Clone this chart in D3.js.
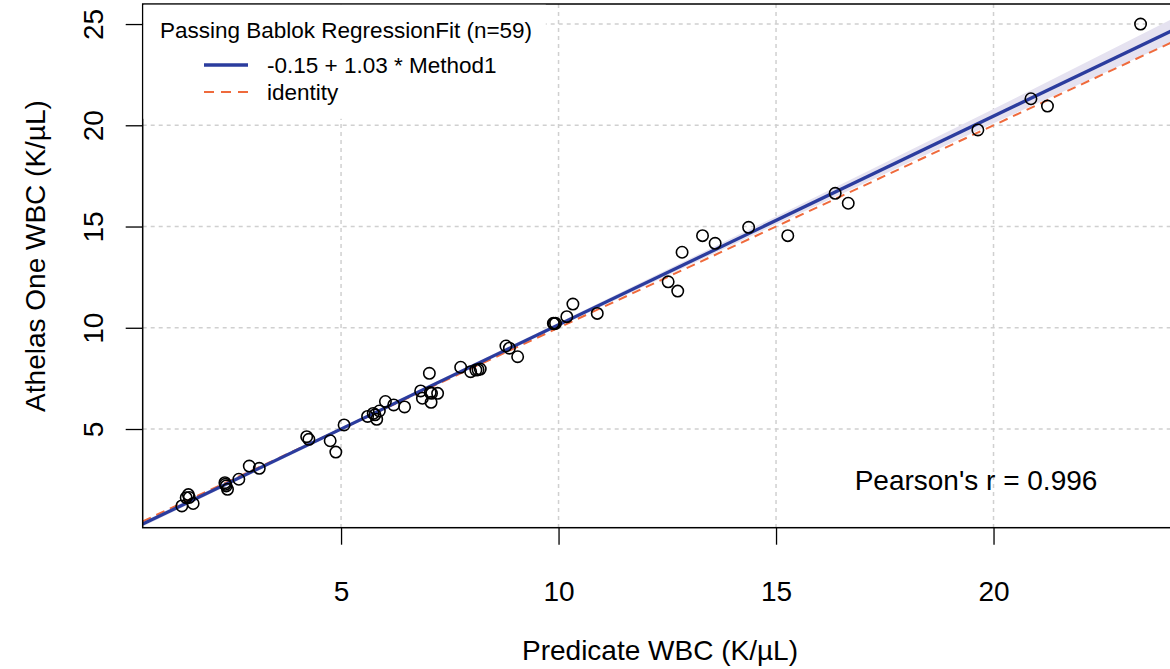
<!DOCTYPE html>
<html>
<head>
<meta charset="utf-8">
<script src="https://cdn.jsdelivr.net/npm/d3@7"></script>
<style>
  body { margin: 0; background: #fff; }
  text { font-family: "Liberation Sans", Arial, sans-serif; fill: #000; }
</style>
</head>
<body>
<div id="chart"></div>
<script>
// predicate (x) vs Athelas One (y) WBC, K/uL
const predicate = [1.34, 1.49, 1.51, 1.60, 1.44, 2.33, 2.36, 2.39, 2.65, 2.89, 3.12, 4.21, 4.26, 4.75, 4.88,
  5.07, 5.61, 5.74, 5.82, 5.88, 6.02, 6.21, 6.46, 6.83, 6.87, 7.03, 7.08, 7.07, 7.22, 7.75, 7.98, 8.10, 8.20,
  8.79, 8.87, 9.06, 9.88, 9.93, 10.19, 10.33, 10.89, 12.52, 12.74, 12.84, 13.31, 13.60, 14.37, 15.27, 16.36,
  16.66, 19.64, 20.86, 21.24, 23.38, 2.34, 5.78, 7.05, 8.15, 9.90];
const athelas = [1.20, 1.76, 1.62, 1.32, 1.61, 2.35, 2.19, 2.02, 2.52, 3.17, 3.06, 4.62, 4.49, 4.42, 3.86,
  5.20, 5.62, 5.77, 5.48, 5.89, 6.36, 6.19, 6.09, 6.88, 6.52, 7.75, 6.76, 6.32, 6.76, 8.05, 7.83, 7.91, 7.96,
  9.10, 8.99, 8.57, 10.22, 10.22, 10.55, 11.17, 10.71, 12.27, 11.81, 13.73, 14.55, 14.17, 14.96, 14.55, 16.64,
  16.15, 19.77, 21.31, 20.95, 25.00, 2.27, 5.70, 6.80, 7.93, 10.20];

const intercept = -0.15;
const slope = 1.03;

// confidence band
const bandX = [0.44, 5, 10, 15, 20, 24.3];
const bandLo = [0.18, 4.92, 10.05, 15.10, 20.10, 24.30];
const bandHi = [0.42, 5.08, 10.25, 15.50, 20.80, 25.46];

const xTicks = [5, 10, 15, 20];
const yTicks = [5, 10, 15, 20, 25];

const legendTitle = "Passing Bablok RegressionFit (n=59)";
const legendLabels = ["-0.15 + 1.03 * Method1", "identity"];
const pearsonText = "Pearson's r = 0.996";

var width = 1170;
var height = 669;
var pLeft = 142.7, pRight = 1179.7, pTop = 4, pBottom = 527.7;

const blue = "#2b3c9e";
const orange = "#ef6a3c";

const svg = d3.select("#chart")
  .append("svg")
  .attr("width", width)
  .attr("height", height)
  .style("background-color", "#fff");

const x = d3.scaleLinear().domain([0.44, 24.28]).range([pLeft, pRight]);
const y = d3.scaleLinear().domain([0.126, 25.99]).range([pBottom, pTop]);

svg.append("clipPath").attr("id", "plotclip")
  .append("rect")
  .attr("x", pLeft).attr("y", pTop)
  .attr("width", pRight - pLeft).attr("height", pBottom - pTop);

// grid
const grid = svg.append("g")
  .attr("stroke", "#d0d0d0")
  .attr("stroke-width", 1.5)
  .attr("stroke-dasharray", "4,4");
grid.selectAll(".gx").data(xTicks).enter().append("line")
  .attr("x1", d => x(d)).attr("x2", d => x(d))
  .attr("y1", pTop).attr("y2", pBottom);
grid.selectAll(".gy").data(yTicks).enter().append("line")
  .attr("x1", pLeft).attr("x2", pRight)
  .attr("y1", d => y(d)).attr("y2", d => y(d));

const plot = svg.append("g").attr("clip-path", "url(#plotclip)");

// band
const band = d3.area()
  .x((d, i) => x(bandX[i]))
  .y0((d, i) => y(bandLo[i]))
  .y1((d, i) => y(bandHi[i]));
plot.append("path")
  .datum(bandX)
  .attr("d", band)
  .attr("fill", "#e5e2f0");

const xEnds = x.domain();
// identity
plot.append("line")
  .attr("x1", x(xEnds[0])).attr("y1", y(xEnds[0]))
  .attr("x2", x(xEnds[1])).attr("y2", y(xEnds[1]))
  .attr("stroke", orange)
  .attr("stroke-width", 2)
  .attr("stroke-dasharray", "9,6");
// fit
plot.append("line")
  .attr("x1", x(xEnds[0])).attr("y1", y(intercept + slope * xEnds[0]))
  .attr("x2", x(xEnds[1])).attr("y2", y(intercept + slope * xEnds[1]))
  .attr("stroke", blue)
  .attr("stroke-width", 3.3);

// points
plot.selectAll("circle")
  .data(predicate)
  .enter()
  .append("circle")
  .attr("cx", d => x(d))
  .attr("cy", (d, i) => y(athelas[i]))
  .attr("r", 5.7)
  .attr("fill", "none")
  .attr("stroke", "#000")
  .attr("stroke-width", 1.6);

// axes
const xAxis = d3.axisBottom(x).tickValues(xTicks).tickSize(17).tickPadding(36);
svg.append("g")
  .attr("transform", `translate(0,${pBottom})`)
  .call(xAxis)
  .call(g => g.select(".domain").remove())
  .call(g => g.selectAll(".tick line").attr("stroke", "#000").attr("stroke-width", 1.3))
  .call(g => g.selectAll(".tick text").style("font-size", "28px").attr("font-family", null));

const yAxis = d3.axisLeft(y).tickValues(yTicks).tickSize(17);
const yg = svg.append("g")
  .attr("transform", `translate(${pLeft},0)`)
  .call(yAxis)
  .call(g => g.select(".domain").remove())
  .call(g => g.selectAll(".tick line").attr("stroke", "#000").attr("stroke-width", 1.3));
yg.selectAll(".tick text")
  .attr("x", null).attr("dy", null)
  .attr("transform", "translate(-49,0) rotate(-90)")
  .attr("text-anchor", "middle")
  .attr("dominant-baseline", "central")
  .attr("font-family", null)
  .style("font-size", "28px");

// border
svg.append("rect")
  .attr("x", pLeft).attr("y", pTop)
  .attr("width", pRight - pLeft).attr("height", pBottom - pTop)
  .attr("fill", "none")
  .attr("stroke", "#000")
  .attr("stroke-width", 1.5);

// titles
svg.append("text")
  .text("Predicate WBC (K/µL)")
  .attr("x", 660).attr("y", 660)
  .attr("text-anchor", "middle")
  .style("font-size", "28px");
svg.append("text")
  .text("Athelas One WBC (K/µL)")
  .attr("transform", "translate(45,256) rotate(-90)")
  .attr("text-anchor", "middle")
  .style("font-size", "28px");

svg.append("text")
  .text(pearsonText)
  .attr("x", 976).attr("y", 490)
  .attr("text-anchor", "middle")
  .style("font-size", "28px");

// legend
const lg = svg.append("g");
lg.append("rect")
  .attr("x", pLeft + 0.8).attr("y", pTop + 0.8)
  .attr("width", 545 - pLeft).attr("height", 114)
  .attr("fill", "#fff");
lg.append("text")
  .text(legendTitle)
  .attr("x", 160).attr("y", 38)
  .style("font-size", "22.5px");
const legendColors = [blue, orange];
const legendDash = [null, "10,7"];
const legendY = [65, 92];
lg.selectAll(".lline").data(legendLabels).enter().append("line")
  .attr("x1", 204).attr("x2", 248)
  .attr("y1", (d, i) => legendY[i]).attr("y2", (d, i) => legendY[i])
  .attr("stroke", (d, i) => legendColors[i])
  .attr("stroke-width", (d, i) => i === 0 ? 3.5 : 2)
  .attr("stroke-dasharray", (d, i) => legendDash[i]);
lg.selectAll(".ltext").data(legendLabels).enter().append("text")
  .text(d => d)
  .attr("x", 267)
  .attr("y", (d, i) => legendY[i] + 8)
  .style("font-size", "22.5px");
</script>
</body>
</html>
